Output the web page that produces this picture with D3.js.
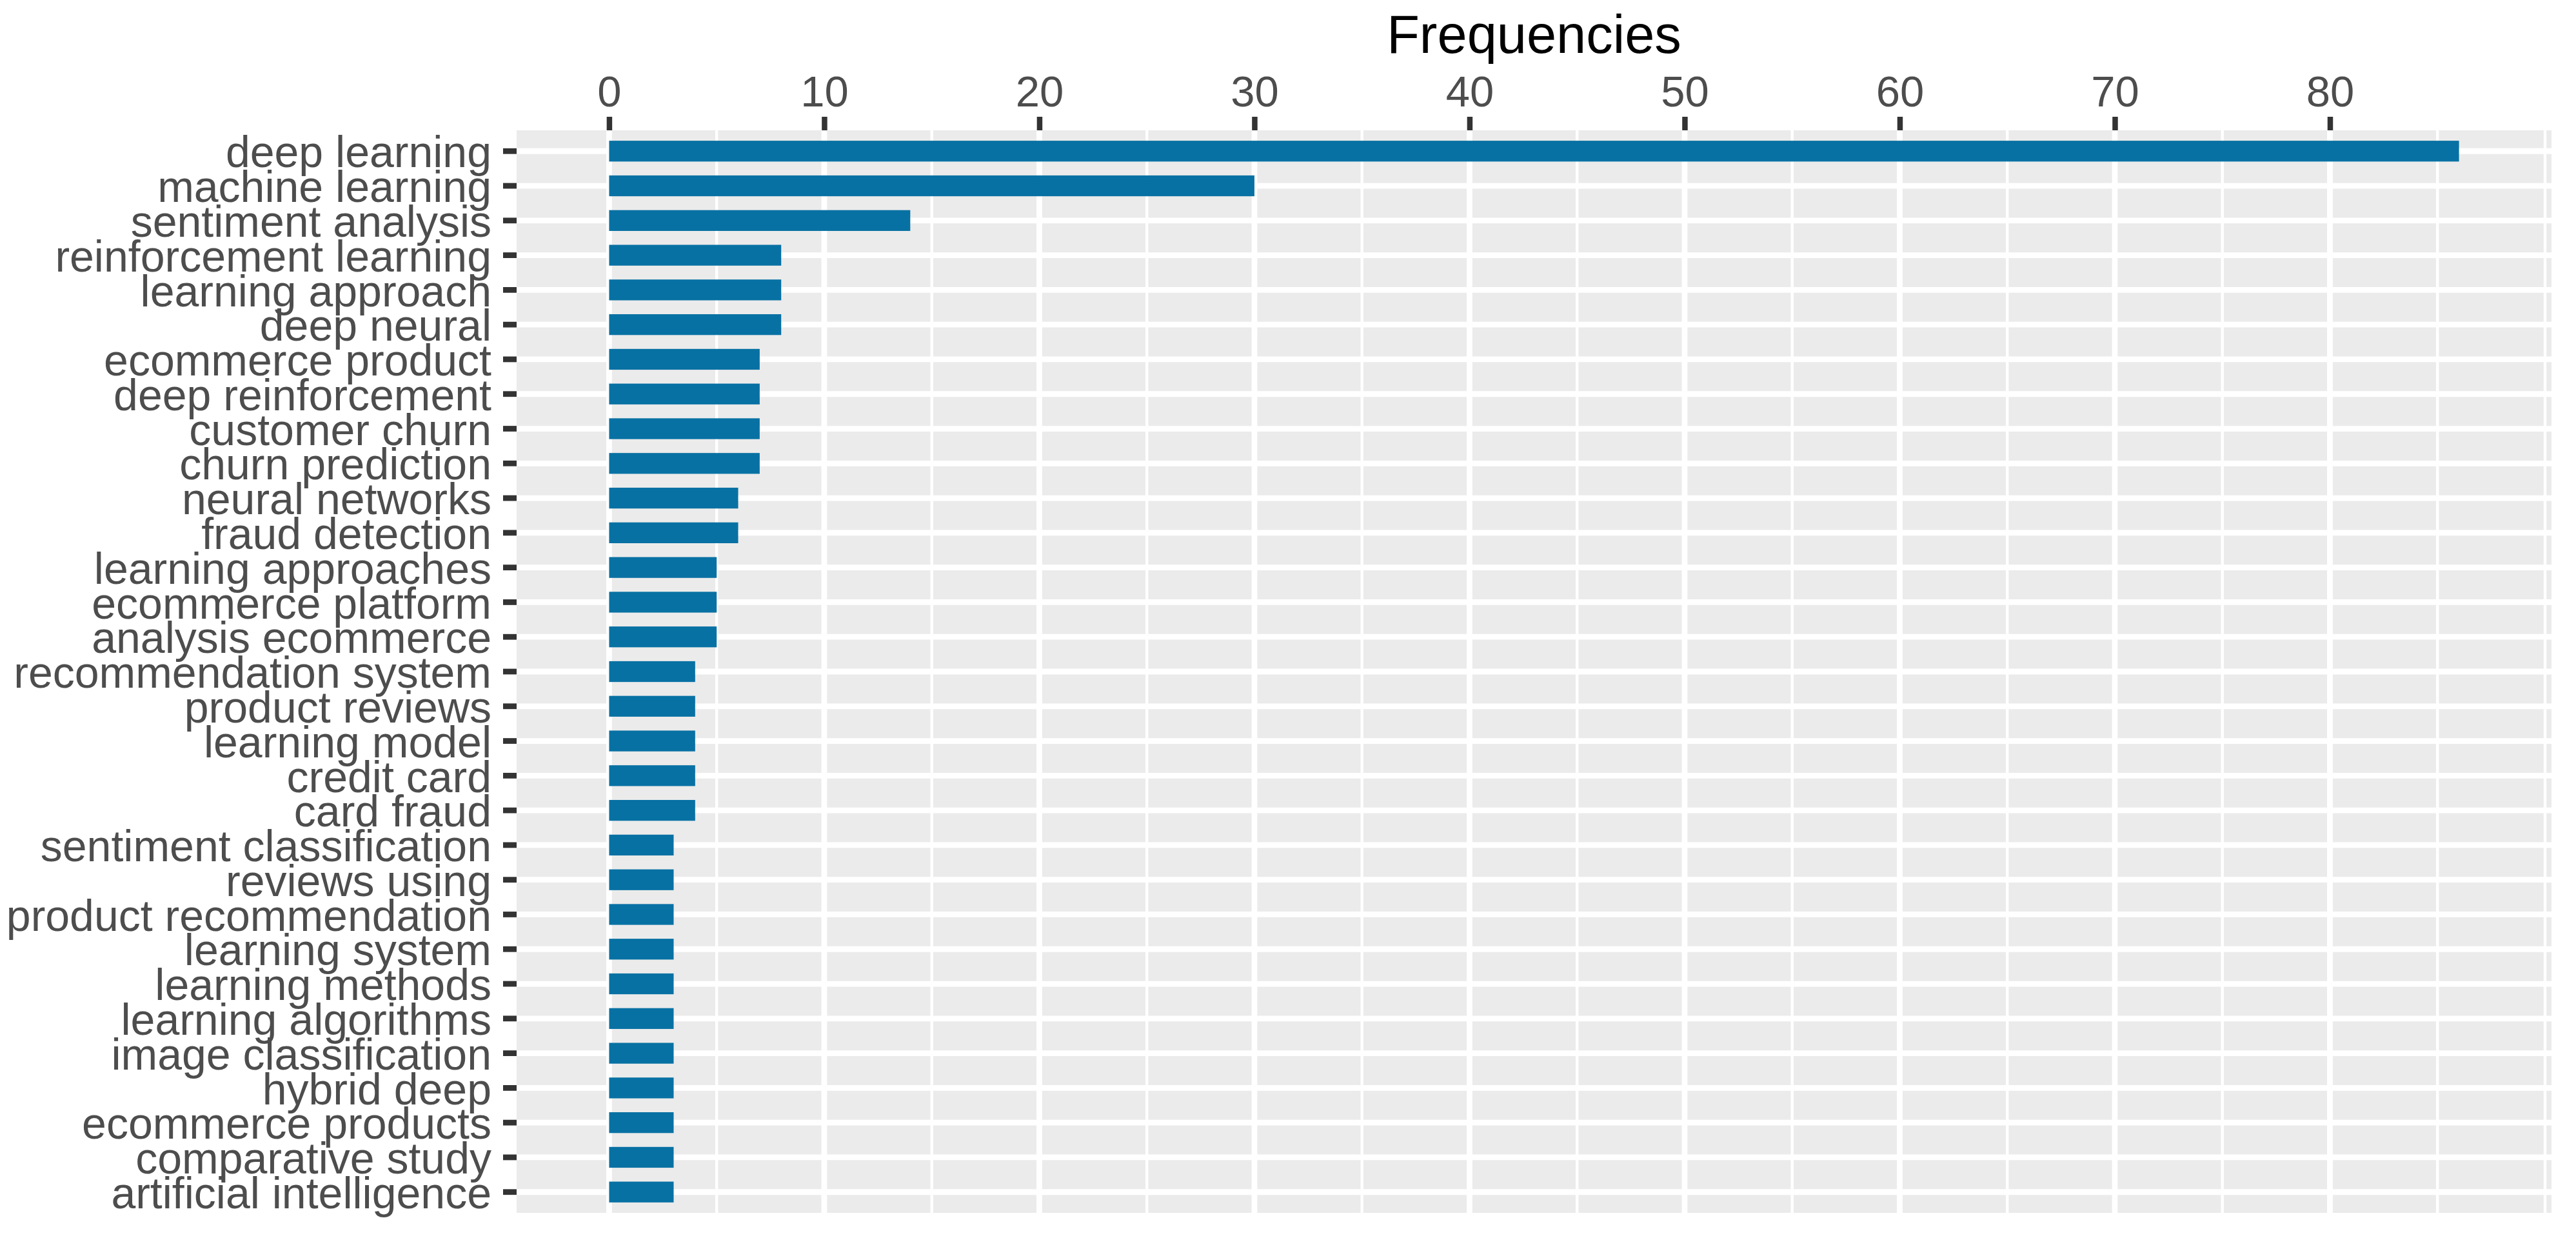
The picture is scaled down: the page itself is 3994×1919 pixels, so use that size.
<!DOCTYPE html>
<html>
<head>
<meta charset="utf-8">
<script src="https://cdn.jsdelivr.net/npm/d3@7"></script>
<style>
  html, body { margin:0; padding:0; background:#fff; }
  svg { display:block; font-family:"Liberation Sans", Arial, sans-serif; }
</style>
</head>
<body>
<div id="chart"></div>
<script>
// ====== données
const TERMS = [
  "deep learning","machine learning","sentiment analysis","reinforcement learning",
  "learning approach","deep neural","ecommerce product","deep reinforcement",
  "customer churn","churn prediction","neural networks","fraud detection",
  "learning approaches","ecommerce platform","analysis ecommerce","recommendation system",
  "product reviews","learning model","credit card","card fraud",
  "sentiment classification","reviews using","product recommendation","learning system",
  "learning methods","learning algorithms","image classification","hybrid deep",
  "ecommerce products","comparative study","artificial intelligence"
];
const FREQS = [86,30,14,8,8,8,7,7,7,7,6,6,5,5,5,4,4,4,4,4,3,3,3,3,3,3,3,3,3,3,3];
const X_TICKS = [0,10,20,30,40,50,60,70,80];
const X_MINOR = [5,15,25,35,45,55,65,75,85,90];
const AXIS_TITLE = "Frequencies";

// ====== dimensions
const W = 3994, H = 1919;
const P = {l:801, r:3956, t:202, b:1880};
const BAR = "#0871A3";

const svg = d3.select("#chart").append("svg")
  .attr("width", W).attr("height", H)
  .attr("viewBox", [0,0,W,H]);

// échelles (expansion ggplot 5% en x, 0.6 en y)
const x = d3.scaleLinear().domain([-4.3, 90.3]).range([P.l, P.r]);
const y = d3.scaleBand().domain(TERMS).range([P.t, P.b]).paddingInner(0).paddingOuter(0.1);
const yc = d => y(d) + y.bandwidth()/2;

// fond du panneau
svg.append("rect")
  .attr("x", P.l).attr("y", P.t)
  .attr("width", P.r - P.l).attr("height", P.b - P.t)
  .attr("fill", "#EBEBEB");

// grille
const grid = svg.append("g").attr("stroke", "#fff");
grid.selectAll("line.minor").data(X_MINOR).join("line")
  .attr("class","minor")
  .attr("x1", d => x(d)).attr("x2", d => x(d))
  .attr("y1", P.t).attr("y2", P.b)
  .attr("stroke-width", 4.4);
grid.selectAll("line.vmaj").data(X_TICKS).join("line")
  .attr("class","vmaj")
  .attr("x1", d => x(d)).attr("x2", d => x(d))
  .attr("y1", P.t).attr("y2", P.b)
  .attr("stroke-width", 8.8);
grid.selectAll("line.hmaj").data(TERMS).join("line")
  .attr("class","hmaj")
  .attr("x1", P.l).attr("x2", P.r)
  .attr("y1", d => yc(d)).attr("y2", d => yc(d))
  .attr("stroke-width", 8.8);

// barres (largeur 0.6)
const bh = y.bandwidth() * 0.6;
svg.append("g").selectAll("rect").data(TERMS).join("rect")
  .attr("x", x(0))
  .attr("y", d => yc(d) - bh/2)
  .attr("width", (d,i) => x(FREQS[i]) - x(0))
  .attr("height", bh)
  .attr("fill", BAR);

// axe x (en haut)
const gx = svg.append("g")
  .attr("transform", `translate(0,${P.t})`)
  .call(d3.axisTop(x).tickValues(X_TICKS).tickSize(21).tickPadding(16));
gx.select(".domain").remove();
gx.selectAll(".tick line").attr("stroke", "#333333").attr("stroke-width", 8.5);
gx.selectAll(".tick text")
  .attr("fill", "#4D4D4D")
  .style("font-size", "67px")
  .style("font-family", "'Liberation Sans', Arial, sans-serif");

// axe y
const gy = svg.append("g")
  .attr("transform", `translate(${P.l},0)`)
  .call(d3.axisLeft(y).tickSize(21).tickPadding(18));
gy.select(".domain").remove();
gy.selectAll(".tick line").attr("stroke", "#333333").attr("stroke-width", 8.8);
gy.selectAll(".tick text")
  .attr("fill", "#4D4D4D")
  .attr("dy", "0.37em")
  .style("font-size", "68px")
  .style("font-family", "'Liberation Sans', Arial, sans-serif");

// titre de l'axe
svg.append("text")
  .attr("x", (P.l + P.r)/2).attr("y", 82)
  .attr("text-anchor", "middle")
  .attr("fill", "#000")
  .style("font-size", "83px")
  .text(AXIS_TITLE);
</script>
</body>
</html>
